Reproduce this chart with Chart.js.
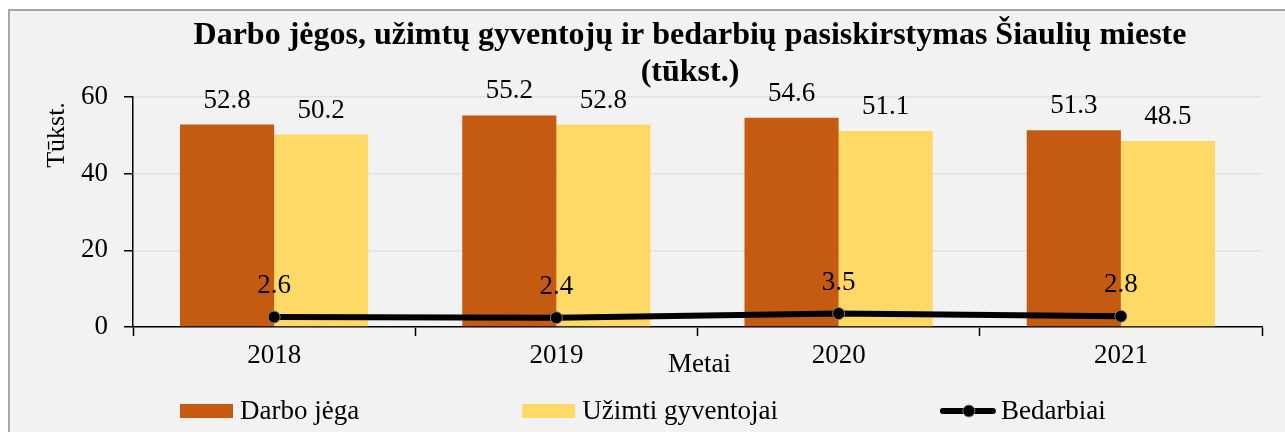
<!DOCTYPE html>
<html>
<head>
<meta charset="utf-8">
<script src="https://cdn.jsdelivr.net/npm/chart.js@4/dist/chart.umd.min.js"></script>
<style>
  html, body { margin: 0; padding: 0; background: #ffffff; }
  #wrap { width: 1285px; height: 432px; }
</style>
</head>
<body>
<div id="wrap"><canvas id="chart" width="1285" height="432"></canvas></div>
<script>
const metai = ["2018", "2019", "2020", "2021"];
const darboJega = [52.8, 55.2, 54.6, 51.3];
const uzimti = [50.2, 52.8, 51.1, 48.5];
const bedarbiai = [2.6, 2.4, 3.5, 2.8];
const yTicks = [0, 20, 40, 60];

const serif = "'Liberation Serif', 'Times New Roman', serif";

// background + frame, labels, titles, legend
const decor = {
  id: "decor",
  beforeDraw(chart) {
    const c = chart.ctx;
    c.save();
    c.fillStyle = "#f2f2f2";
    c.fillRect(9, 10, chart.width, chart.height);
    c.strokeStyle = "#a6a6a6";
    c.lineWidth = 2;
    c.strokeRect(9, 10, chart.width + 10, chart.height + 10);
    c.restore();
  },
  afterDatasetsDraw(chart) {
    const c = chart.ctx;
    const area = chart.chartArea;
    c.save();
    c.fillStyle = "#000";
    c.textAlign = "center";

    // value labels
    c.font = "27px " + serif;
    c.textBaseline = "alphabetic";
    chart.data.datasets.forEach((ds, i) => {
      const meta = chart.getDatasetMeta(i);
      meta.data.forEach((el, j) => {
        const off = ds.type === "line" ? 24 : 17;
        c.fillText(ds.data[j].toFixed(1), el.x, el.y - off);
      });
    });

    // title
    c.font = "bold 32px " + serif;
    c.fillText("Darbo jėgos, užimtų gyventojų ir bedarbių pasiskirstymas Šiaulių mieste", 690, 44);
    c.fillText("(tūkst.)", 690, 81);

    // x title
    c.font = "27px " + serif;
    c.fillText("Metai", (area.left + area.right) / 2 + 2, 372);

    // y title
    c.save();
    c.translate(64, 135);
    c.rotate(-Math.PI / 2);
    c.font = "26px " + serif;
    c.fillText("Tūkst.", 0, 0);
    c.restore();

    // legend
    let x = 180;
    const ly = 411;
    c.font = "27px " + serif;
    c.textAlign = "left";
    c.textBaseline = "middle";
    chart.data.datasets.forEach(ds => {
      if (ds.type === "line") {
        c.strokeStyle = ds.borderColor;
        c.lineWidth = 6;
        c.lineCap = "round";
        c.beginPath();
        c.moveTo(x + 2, ly);
        c.lineTo(x + 52, ly);
        c.stroke();
        c.beginPath();
        c.arc(x + 28, ly, 6, 0, Math.PI * 2);
        c.fillStyle = "#000";
        c.fill();
        c.lineWidth = 1;
        c.strokeStyle = "#7f7f7f";
        c.stroke();
      } else {
        c.fillStyle = ds.backgroundColor;
        c.fillRect(x, ly - 7, 53, 14);
      }
      c.fillStyle = "#000";
      c.fillText(ds.label, x + 60, ly + 1);
      x += 60 + c.measureText(ds.label).width + 163;
    });
    c.restore();
  }
};

new Chart(document.getElementById("chart"), {
  data: {
    labels: metai,
    datasets: [
      {
        type: "bar",
        label: "Darbo jėga",
        data: darboJega,
        backgroundColor: "#c55a11",
        categoryPercentage: 0.667,
        barPercentage: 1,
        order: 1
      },
      {
        type: "bar",
        label: "Užimti gyventojai",
        data: uzimti,
        backgroundColor: "#ffd966",
        categoryPercentage: 0.667,
        barPercentage: 1,
        order: 1
      },
      {
        type: "line",
        label: "Bedarbiai",
        data: bedarbiai,
        borderColor: "#000000",
        borderWidth: 6,
        pointRadius: 6,
        pointBackgroundColor: "#000000",
        pointBorderColor: "#7f7f7f",
        pointBorderWidth: 1,
        tension: 0,
        order: 0
      }
    ]
  },
  options: {
    responsive: false,
    animation: false,
    devicePixelRatio: 1,
    layout: { padding: { left: 0, right: 23, top: 97, bottom: 0 } },
    plugins: {
      legend: { display: false },
      title: { display: false },
      tooltip: { enabled: false }
    },
    scales: {
      x: {
        offset: true,
        grid: {
          offset: true,
          drawOnChartArea: false,
          tickColor: "#000",
          tickLength: 9,
          tickWidth: 1.5
        },
        border: { color: "#000", width: 1.5 },
        ticks: { color: "#000", font: { family: serif, size: 27 }, padding: 4 },
        afterFit(scale) { scale.height = 105; }
      },
      y: {
        min: 0,
        max: 60,
        afterBuildTicks(scale) { scale.ticks = yTicks.map(v => ({ value: v })); },
        grid: {
          color: "#dee3ea",
          lineWidth: 1.5,
          tickColor: "#000",
          tickLength: 9
        },
        border: { color: "#000", width: 1.5 },
        ticks: { color: "#000", font: { family: serif, size: 27 }, padding: 16 },
        afterFit(scale) { scale.width = 133; }
      }
    }
  },
  plugins: [decor]
});
</script>
</body>
</html>
